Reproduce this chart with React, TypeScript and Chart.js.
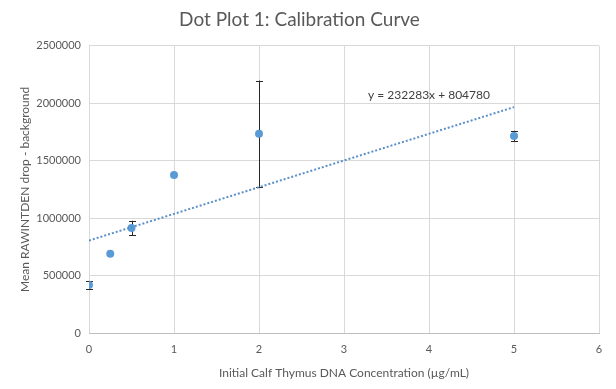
import React, { useEffect, useRef } from "react";
import { Chart, registerables } from "chart.js";

Chart.register(...registerables);

const concentrations = [0, 0.25, 0.5, 1, 2, 5];
const meanValues = [418000, 690000, 915000, 1375000, 1735000, 1715000];
const errorValues = [36000, 0, 62000, 0, 462000, 45000];
const trendSlope = 232283;
const trendIntercept = 804780;
const trendRange = [0, 5];
const xTickValues = [0, 1, 2, 3, 4, 5, 6];
const yTickValues = [0, 500000, 1000000, 1500000, 2000000, 2500000];
const equationLabel = "y = 232283x + 804780";
const equationAnchor = [4.0, 2070000];

const FONT = "Lato, 'Open Sans', sans-serif";
const TEXT = "#595959";

const errorBarPlugin = {
  id: "errorBars",
  beforeDatasetsDraw(chart: any) {
    const xs = chart.scales.x;
    const ys = chart.scales.y;
    const ctx = chart.ctx;
    ctx.save();
    ctx.strokeStyle = "#262626";
    ctx.lineWidth = 1;
    concentrations.forEach((c, i) => {
      const e = errorValues[i];
      if (!e) return;
      const px = Math.round(xs.getPixelForValue(c)) + 0.5;
      const top = ys.getPixelForValue(meanValues[i] + e);
      const bot = ys.getPixelForValue(meanValues[i] - e);
      ctx.beginPath();
      ctx.moveTo(px, top);
      ctx.lineTo(px, bot);
      ctx.moveTo(px - 3.5, Math.round(top) + 0.5);
      ctx.lineTo(px + 3.5, Math.round(top) + 0.5);
      ctx.moveTo(px - 3.5, Math.round(bot) + 0.5);
      ctx.lineTo(px + 3.5, Math.round(bot) + 0.5);
      ctx.stroke();
    });
    ctx.restore();
  },
  afterDatasetsDraw(chart: any) {
    const xs = chart.scales.x;
    const ys = chart.scales.y;
    const ctx = chart.ctx;
    ctx.save();
    ctx.font = `12px ${FONT}`;
    ctx.fillStyle = "#404040";
    ctx.textAlign = "center";
    ctx.textBaseline = "middle";
    ctx.fillText(
      equationLabel,
      xs.getPixelForValue(equationAnchor[0]),
      ys.getPixelForValue(equationAnchor[1])
    );
    ctx.restore();
  },
};

export default function App() {
  const ref = useRef<HTMLCanvasElement | null>(null);
  useEffect(() => {
    document.body.style.margin = "0";
    const chart = new Chart(ref.current!, {
      type: "scatter",
      data: {
        datasets: [
          {
            label: "Mean",
            data: concentrations.map((c, i) => ({ x: c, y: meanValues[i] })),
            backgroundColor: "#5B9BD5",
            borderColor: "#5B9BD5",
            borderWidth: 0,
            pointRadius: 4,
            pointHoverRadius: 4,
            order: 1,
          },
          {
            type: "line",
            label: "Linear trend",
            data: trendRange.map((x) => ({ x, y: trendSlope * x + trendIntercept })),
            borderColor: "#5B8FC9",
            borderWidth: 2,
            borderDash: [2, 2],
            pointRadius: 0,
            fill: false,
            order: 0,
          },
        ],
      },
      options: {
        animation: false,
        responsive: false,
        maintainAspectRatio: false,
        layout: { padding: { left: 0, right: 17, top: 0, bottom: 0 } },
        plugins: {
          legend: { display: false },
          tooltip: { enabled: false },
          title: {
            display: true,
            text: "Dot Plot 1: Calibration Curve",
            color: TEXT,
            font: { family: FONT, size: 19, weight: "normal" },
            padding: { top: 8, bottom: 15 },
          },
        },
        scales: {
          x: {
            type: "linear",
            min: 0,
            max: 6,
            afterBuildTicks: (s: any) => {
              s.ticks = xTickValues.map((v) => ({ value: v }));
            },
            ticks: {
              color: TEXT,
              font: { family: FONT, size: 11 },
              padding: 10,
              callback: (v: any) => String(v),
            },
            grid: { color: "#D9D9D9", drawTicks: false },
            border: { color: "#BFBFBF" },
            title: {
              display: true,
              text: "Initial Calf Thymus DNA Concentration (µg/mL)",
              color: TEXT,
              font: { family: FONT, size: 12 },
              padding: { top: 0, bottom: 9 },
            },
            afterFit: (s: any) => {
              s.height = 56;
            },
          },
          y: {
            type: "linear",
            min: 0,
            max: 2500000,
            afterBuildTicks: (s: any) => {
              s.ticks = yTickValues.map((v) => ({ value: v }));
            },
            ticks: {
              color: TEXT,
              font: { family: FONT, size: 11 },
              padding: 8,
              callback: (v: any) => String(v),
            },
            grid: { color: "#D9D9D9", drawTicks: false },
            border: { display: false },
            title: {
              display: true,
              text: "Mean RAWINTDEN drop - background",
              color: TEXT,
              font: { family: FONT, size: 12 },
              padding: { top: 18, bottom: 0 },
            },
            afterFit: (s: any) => {
              s.width = 89;
            },
          },
        },
      },
      plugins: [errorBarPlugin],
    });
    return () => chart.destroy();
  }, []);
  return (
    <div style={{ position: "relative", width: 616, height: 389, background: "#fff" }}>
      <canvas ref={ref} width={616} height={389} style={{ width: 616, height: 389 }} />
    </div>
  );
}
